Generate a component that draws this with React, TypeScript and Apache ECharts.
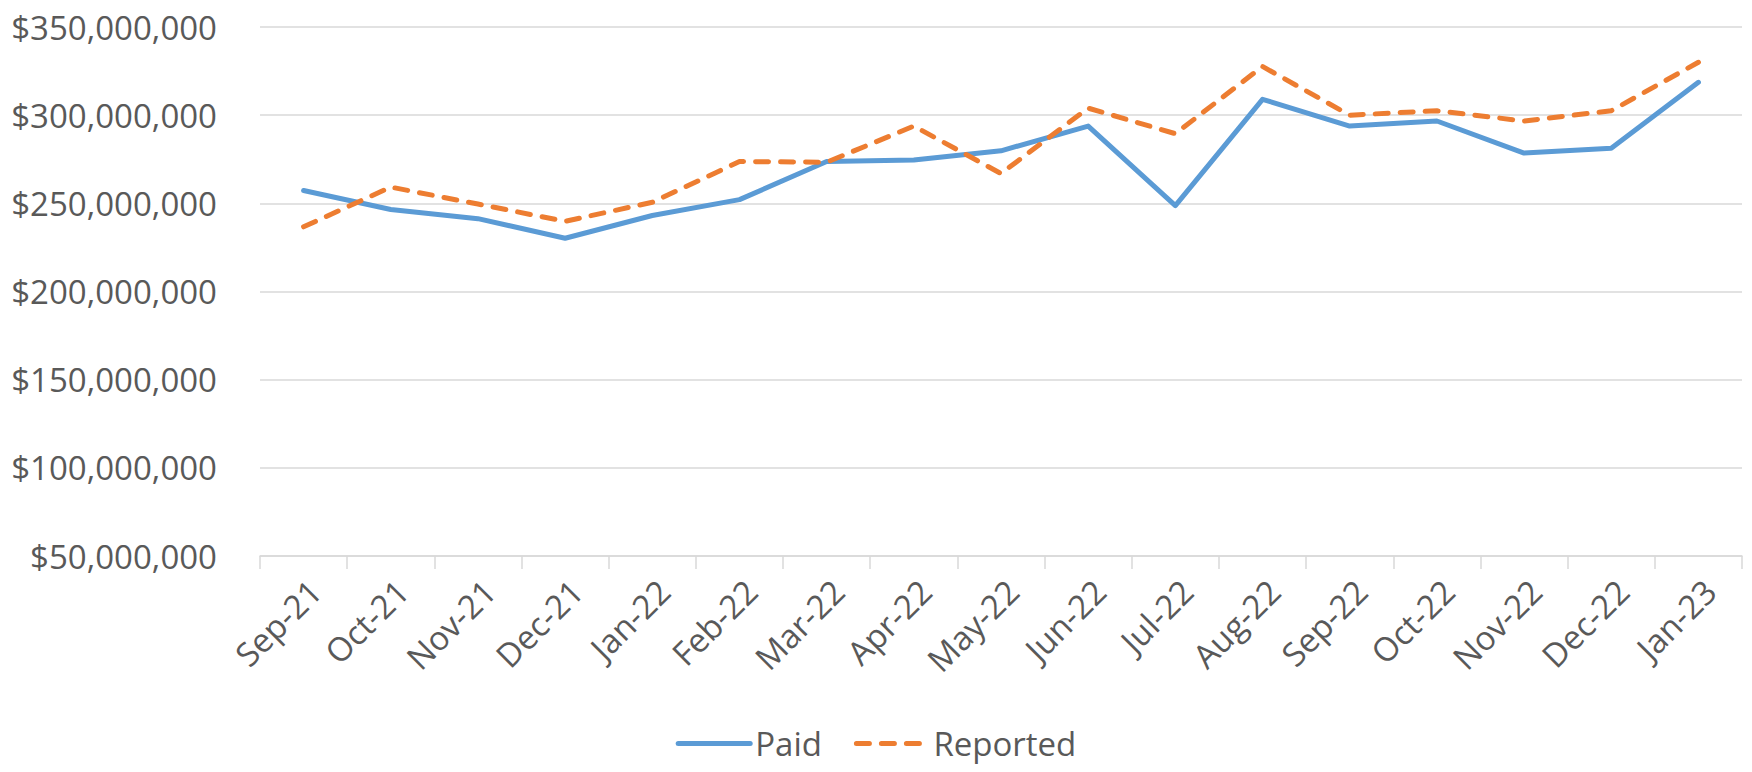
import React, { useEffect, useRef } from "react";
import * as echarts from "echarts";

const categories = [
  "Sep-21", "Oct-21", "Nov-21", "Dec-21", "Jan-22", "Feb-22", "Mar-22", "Apr-22", "May-22",
  "Jun-22", "Jul-22", "Aug-22", "Sep-22", "Oct-22", "Nov-22", "Dec-22", "Jan-23",
];

const paid = [
  257300000, 246500000, 241300000, 230200000, 243100000, 252100000, 273700000, 274600000,
  279800000, 293800000, 248700000, 309000000, 293800000, 296700000, 278500000, 281300000,
  318600000,
];

const reported = [
  236700000, 259200000, 249600000, 239800000, 250600000, 273700000, 273300000, 293800000,
  266900000, 304000000, 289500000, 327600000, 300000000, 302500000, 296700000, 302500000,
  330000000,
];

const seriesNames = ["Paid", "Reported"];
const yMin = 50000000;
const yMax = 350000000;
const yStep = 50000000;

function formatDollar(v: number): string {
  const s = Math.round(v).toString();
  const parts: string[] = [];
  for (let i = s.length; i > 0; i -= 3) {
    parts.unshift(s.substring(Math.max(0, i - 3), i));
  }
  return "$" + parts.join(",");
}

export default function App() {
  const ref = useRef<HTMLDivElement>(null);

  useEffect(() => {
    if (!ref.current) return;
    const chart = echarts.init(ref.current, null, { renderer: "svg" });
    const font = "'Open Sans', sans-serif";
    const textColor = "#595959";
    chart.setOption({
      animation: false,
      backgroundColor: "#ffffff",
      grid: { left: 260, right: 10, top: 27, bottom: 216 },
      legend: {
        data: seriesNames,
        left: "center",
        top: 722,
        itemWidth: 72,
        itemHeight: 14,
        itemGap: 32,
        itemStyle: { opacity: 0 },
        lineStyle: { width: 5 },
        textStyle: { fontFamily: font, fontSize: 33, color: textColor },
      },
      xAxis: {
        type: "category",
        data: categories,
        boundaryGap: true,
        axisLine: { show: true, lineStyle: { color: "#d9d9d9", width: 1.5 } },
        axisTick: { show: true, length: 13, lineStyle: { color: "#d9d9d9", width: 1.5 } },
        axisLabel: {
          rotate: 45,
          margin: 18,
          interval: 0,
          verticalAlign: "top",
          fontFamily: font,
          fontSize: 33,
          color: textColor,
        },
      },
      yAxis: {
        type: "value",
        min: yMin,
        max: yMax,
        interval: yStep,
        axisLine: { show: false },
        axisTick: { show: false },
        splitLine: { lineStyle: { color: "#d9d9d9", width: 1.5 } },
        axisLabel: {
          margin: 43,
          fontFamily: font,
          fontSize: 33,
          color: textColor,
          formatter: (v: number) => formatDollar(v),
        },
      },
      series: [
        {
          name: seriesNames[0],
          type: "line",
          data: paid,
          symbol: "none",
          lineStyle: { color: "#5B9BD5", width: 5, cap: "round", join: "round" },
          itemStyle: { color: "#5B9BD5" },
        },
        {
          name: seriesNames[1],
          type: "line",
          data: reported,
          symbol: "none",
          lineStyle: { color: "#ED7D31", width: 5, type: [13, 12], cap: "round", join: "round" },
          itemStyle: { color: "#ED7D31" },
        },
      ],
    });
    return () => chart.dispose();
  }, []);

  return (
    <div
      ref={ref}
      style={{ position: "fixed", left: 0, top: 0, width: 1752, height: 772, background: "#fff" }}
    />
  );
}
